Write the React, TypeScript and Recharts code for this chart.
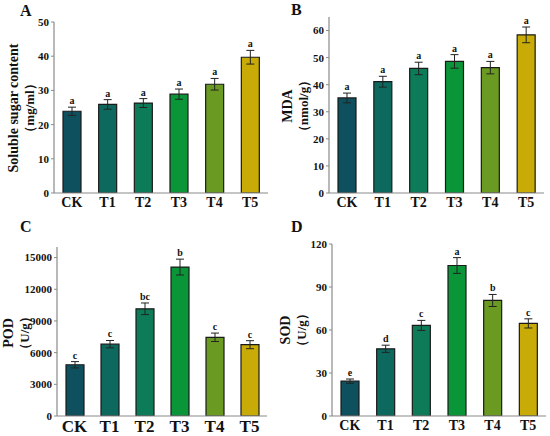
import React from "react";
import {
  Bar,
  BarChart,
  Cell,
  ErrorBar,
  LabelList,
  XAxis,
  YAxis,
} from "recharts";

const categories = ["CK", "T1", "T2", "T3", "T4", "T5"];
const barColors = ["#0e505d", "#0d695e", "#0e7b58", "#0a9538", "#6a9a22", "#c8ab06"];

const sugarValues = [23.9, 25.9, 26.3, 28.9, 31.8, 39.7];
const sugarErrors = [1.2, 1.4, 1.3, 1.5, 1.7, 2.0];
const sugarLetters = ["a", "a", "a", "a", "a", "a"];

const mdaValues = [35.1, 41.1, 46.0, 48.6, 46.3, 58.4];
const mdaErrors = [1.8, 2.0, 2.3, 2.5, 2.3, 2.9];
const mdaLetters = ["a", "a", "a", "a", "a", "a"];

const podValues = [4850, 6800, 10150, 14100, 7450, 6750];
const podErrors = [300, 350, 550, 750, 400, 380];
const podLetters = ["c", "c", "bc", "b", "c", "c"];

const sodValues = [24.3, 46.9, 63.2, 105.0, 80.6, 64.6];
const sodErrors = [1.5, 2.5, 3.5, 5.5, 4.2, 3.2];
const sodLetters = ["e", "d", "c", "a", "b", "c"];

const serif = "'Liberation Serif', 'Times New Roman', serif";
const frame = "#8a8a8a";

interface PanelProps {
  letter: string;
  left: number;
  top: number;
  values: number[];
  errors: number[];
  letters: string[];
  domain: [number, number];
  ticks: number[];
  title: string;
  unit: string;
  margin: { top: number; right: number; bottom: number; left: number };
  axisWidth: number;
  xFont: number;
  titleX: [number, number];
  titleY: number;
  letterPos: [number, number];
}

function Panel(p: PanelProps) {
  const data = categories.map((name, i) => ({
    name,
    value: p.values[i],
    err: p.errors[i],
    letter: p.letters[i],
  }));

  const renderLetter = (props: any) => {
    const { x, y, width, height, index, value } = props;
    const d = data[index];
    if (!d) return null;
    const pxPerUnit = height / d.value;
    const ly = y - d.err * pxPerUnit - 3;
    return (
      <text
        x={x + width / 2}
        y={ly}
        textAnchor="middle"
        fontFamily={serif}
        fontWeight="bold"
        fontSize={10}
        fill="#111"
      >
        {value}
      </text>
    );
  };

  const renderTitle = () => (
    <g>
      <text
        x={p.titleX[0]}
        y={p.titleY}
        transform={`rotate(-90, ${p.titleX[0]}, ${p.titleY})`}
        textAnchor="middle"
        dominantBaseline="central"
        fontFamily={serif}
        fontWeight="bold"
        fontSize={14}
        fill="#111"
      >
        {p.title}
      </text>
      <text
        x={p.titleX[1]}
        y={p.titleY}
        transform={`rotate(-90, ${p.titleX[1]}, ${p.titleY})`}
        textAnchor="middle"
        dominantBaseline="central"
        fontFamily={serif}
        fontWeight="bold"
        fontSize={13}
        fill="#111"
      >
        {p.unit}
      </text>
    </g>
  );

  return (
    <div style={{ position: "absolute", left: p.left, top: p.top, width: 275, height: 218 }}>
      <div
        style={{
          position: "absolute",
          left: p.letterPos[0],
          top: p.letterPos[1],
          fontFamily: serif,
          fontWeight: "bold",
          fontSize: 16,
          lineHeight: "16px",
          color: "#111",
        }}
      >
        {p.letter}
      </div>
      <BarChart width={275} height={218} data={data} margin={p.margin}>
        <XAxis
          dataKey="name"
          tickLine={false}
          tickSize={2}
          height={20}
          axisLine={{ stroke: frame, strokeWidth: 1.2 }}
          tick={{ fontFamily: serif, fontWeight: "bold", fontSize: p.xFont, fill: "#111" }}
          interval={0}
        />
        <XAxis
          xAxisId="top"
          orientation="top"
          dataKey="name"
          height={0}
          tick={false}
          tickLine={false}
          axisLine={{ stroke: frame, strokeWidth: 1.2 }}
        />
        <YAxis
          width={p.axisWidth}
          domain={p.domain}
          ticks={p.ticks}
          allowDataOverflow
          tickSize={3}
          tickMargin={2}
          tickLine={{ stroke: frame }}
          axisLine={{ stroke: frame, strokeWidth: 1.2 }}
          tick={{ fontFamily: serif, fontWeight: "bold", fontSize: 11, fill: "#111" }}
          label={{ content: renderTitle }}
        />
        <YAxis
          yAxisId="right"
          orientation="right"
          width={0}
          domain={p.domain}
          tick={false}
          tickLine={false}
          axisLine={{ stroke: frame, strokeWidth: 1.2 }}
        />
        <Bar dataKey="value" barSize={18} stroke="#1a1a1a" strokeWidth={1.2} isAnimationActive={false}>
          {data.map((d, i) => (
            <Cell key={d.name} fill={barColors[i]} />
          ))}
          <ErrorBar dataKey="err" direction="y" width={4} stroke="#222" strokeWidth={1} />
          <LabelList dataKey="letter" content={renderLetter} />
        </Bar>
      </BarChart>
    </div>
  );
}

export default function App() {
  return (
    <div style={{ position: "absolute", left: 0, top: 0, width: 550, height: 436, background: "#fff" }}>
      <Panel
        letter="A"
        left={0}
        top={0}
        values={sugarValues}
        errors={sugarErrors}
        letters={sugarLetters}
        domain={[0, 50]}
        ticks={[0, 10, 20, 30, 40, 50]}
        title="Soluble sugar content"
        unit="（mg/ml）"
        margin={{ top: 22, right: 7, bottom: 5, left: 14 }}
        axisWidth={40}
        xFont={14}
        titleX={[13, 29]}
        titleY={108}
        letterPos={[20, 3]}
      />
      <Panel
        letter="B"
        left={275}
        top={0}
        values={mdaValues}
        errors={mdaErrors}
        letters={mdaLetters}
        domain={[0, 65]}
        ticks={[0, 10, 20, 30, 40, 50, 60]}
        title="MDA"
        unit="（nmol/g）"
        margin={{ top: 17, right: 6, bottom: 5, left: 14 }}
        axisWidth={40}
        xFont={14}
        titleX={[12, 28]}
        titleY={106}
        letterPos={[16, 2]}
      />
      <Panel
        letter="C"
        left={0}
        top={218}
        values={podValues}
        errors={podErrors}
        letters={podLetters}
        domain={[0, 16000]}
        ticks={[0, 3000, 6000, 9000, 12000, 15000]}
        title="POD"
        unit="（U/g）"
        margin={{ top: 29, right: 8, bottom: 0, left: 17 }}
        axisWidth={40}
        xFont={17}
        titleX={[8, 24]}
        titleY={115}
        letterPos={[20, 1]}
      />
      <Panel
        letter="D"
        left={275}
        top={218}
        values={sodValues}
        errors={sodErrors}
        letters={sodLetters}
        domain={[0, 120]}
        ticks={[0, 30, 60, 90, 120]}
        title="SOD"
        unit="（U/g）"
        margin={{ top: 26, right: 4, bottom: 0, left: 17 }}
        axisWidth={40}
        xFont={14}
        titleX={[10, 26]}
        titleY={112}
        letterPos={[16, 1]}
      />
    </div>
  );
}
